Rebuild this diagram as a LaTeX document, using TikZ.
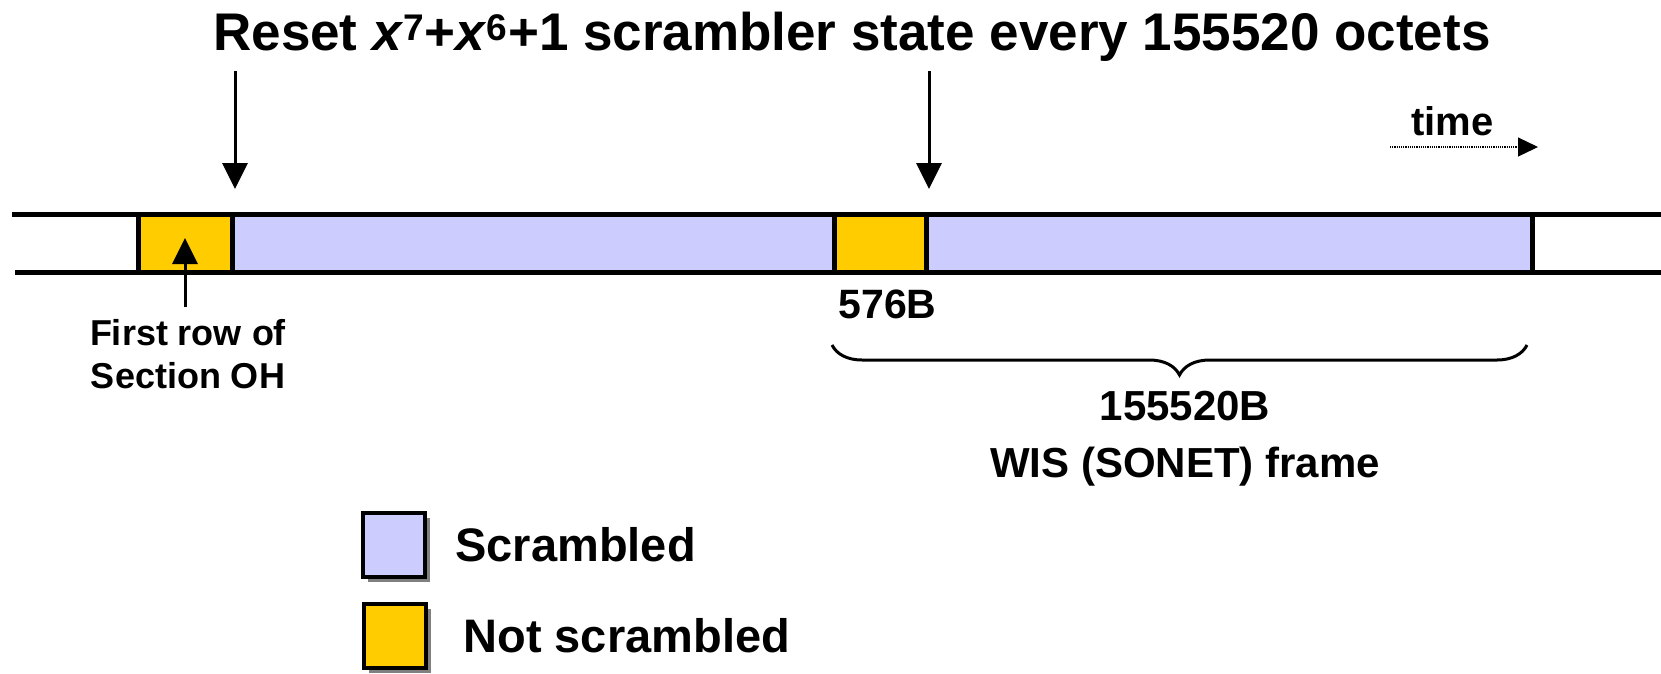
\documentclass[tikz,border=0pt]{standalone}
\usepackage{fontspec}
\setmainfont{Liberation Sans}
\usetikzlibrary{positioning,arrows.meta,decorations.pathreplacing,shadows}
\definecolor{scrblue}{HTML}{CCCCFF}
\definecolor{ohgold}{HTML}{FFCC00}
\tikzset{
  seg/.style={draw,line width=5pt,minimum height=58pt,inner sep=0pt,outer sep=0pt},
  leg/.style={draw,line width=4pt,minimum width=62pt,minimum height=64pt,inner sep=0pt,outer sep=0pt,
    drop shadow={shadow xshift=5pt,shadow yshift=-5pt,fill=black!50,opacity=1}},
  big/.style 2 args={font=\bfseries\fontsize{#1}{#2}\selectfont,inner sep=0pt}
}

\begin{document}
\begin{tikzpicture}[x=1pt,y=-1pt,line width=3pt,>={Triangle[length=26pt,width=25pt]}]
\useasboundingbox (0,0) rectangle (1661,673);
\coordinate (TL) at (12,214); \coordinate (TR) at (1661,214); \coordinate (BL) at (15,272); \coordinate (BR) at (1661,272);
\draw[line width=5pt] (TL)--(TR) (BL)--(BR);
\node[seg,fill=ohgold,minimum width=94pt,anchor=west] (oh1) at (138,243) {};
\node[seg,fill=scrblue,minimum width=602pt,right=0pt of oh1] (pay1) {};
\node[seg,fill=ohgold,minimum width=92pt,right=0pt of pay1] (oh2) {};
\node[seg,fill=scrblue,minimum width=606pt,right=0pt of oh2] (pay2) {};
\node[big={53}{60},anchor=base] (title) at (852,50) {Reset \textit{x}\textsuperscript{7}+\textit{x}\textsuperscript{6}+1 scrambler state every 155520 octets};
\foreach \x/\n in {235/1,929/2} \draw[->] (\x,71) coordinate (rst\n) -- (\x,189) coordinate (hit\n);
\node[big={36}{43},align=center,anchor=base] (frow) at (188,388) {First row of\\Section OH};
\draw[->] ([yshift=10pt]frow.north -| oh1) -- ([yshift=5pt]oh1.center);
\node[big={41}{49},anchor=base west] (sz) at (837,318) {576B};
\draw[decorate,decoration={brace,amplitude=30pt,mirror}] (832,345) coordinate (bl) -- (1527,345) coordinate (br);
\node[big={42}{57},align=center,anchor=base] (frm) at (1185,477) {155520B\\WIS (SONET) frame};
\node[big={40}{48},anchor=base west] (time) at (1410,135) {time};
\draw[densely dotted,line width=1.2pt,-{Triangle[length=20pt,width=19pt]}] (1390,147) coordinate (t0) -- (1538,147) coordinate (t1);
\node[leg,fill=scrblue] (k1) at (394,545) {};
\node[big={47}{56},right=29pt of k1] (k1t) {Scrambled};
\node[leg,fill=ohgold] (k2) at (395,636) {};
\node[big={47}{56},right=36pt of k2] (k2t) {Not scrambled};
\end{tikzpicture}
\end{document}
